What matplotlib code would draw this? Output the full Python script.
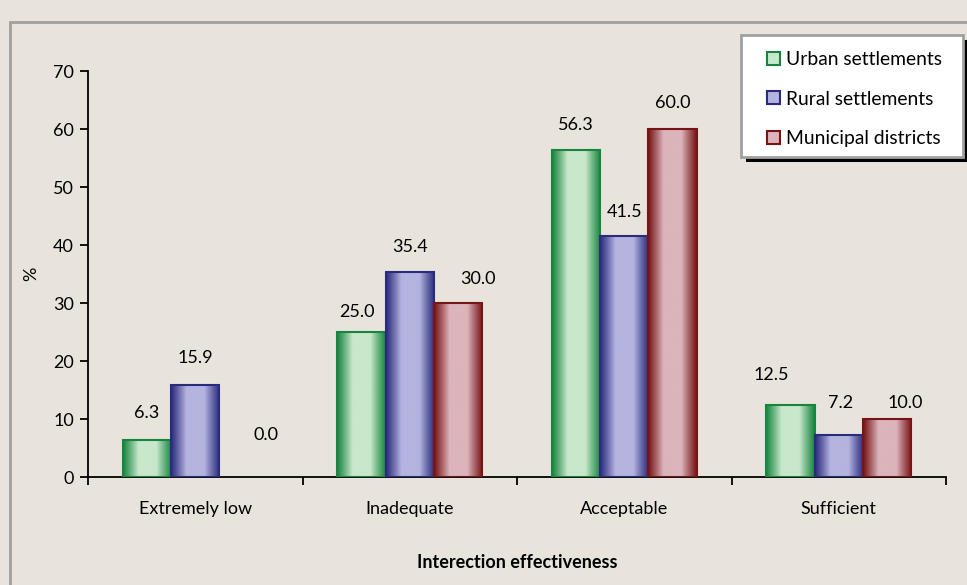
import numpy as np
import matplotlib.pyplot as plt
from matplotlib.colors import LinearSegmentedColormap
from matplotlib.patches import Rectangle

categories = ['Extremely low', 'Inadequate', 'Acceptable', 'Sufficient']
series_names = ['Urban settlements', 'Rural settlements', 'Municipal districts']
urban = [6.3, 25.0, 56.3, 12.5]
rural = [15.9, 35.4, 41.5, 7.2]
municipal = [0.0, 30.0, 60.0, 10.0]

# hand-placed label nudges (dx, dy) in pixels from the bar top centre
label_nudge = [
    [(0, 27), (-5, 20), (0, 25), (-19, 30)],
    [(0, 27), (0, 25), (0, 24), (2, 32)],
    [(22, 42), (20, 24), (0, 26), (18, 16)],
]

# (edge colour, centre colour) for the cylinder-style shading
palette = [('#17853f', '#c8e8cb'), ('#2b2b7e', '#b4b4e0'), ('#761416', '#dcb4bb')]

plt.rcParams['font.family'] = ['Lato', 'DejaVu Sans']
bg = '#e8e4dc'
fs = 13
W, H = 967, 585

fig = plt.figure(figsize=(W / 100, H / 100), dpi=100, facecolor=bg)
ax = fig.add_axes([88 / W, 1 - 477 / H, (946 - 88) / W, (477 - 71) / H])
ax.set_facecolor(bg)


def px_box(x0, y0, x1, y1, **kw):
    # rectangle given in figure pixels, measured from the top-left corner
    return Rectangle((x0 / W, 1 - y1 / H), (x1 - x0) / W, (y1 - y0) / H,
                     transform=fig.transFigure, **kw)


# outer frame of the chart area
fig.patches.append(px_box(10, 22, W + 10, H + 10, fill=False, edgecolor='#a0a0a0',
                          linewidth=2, zorder=0))

width = 0.225
x = np.arange(len(categories))
grad = np.abs(np.linspace(-1, 1, 96))[None, :]

for i, (vals, (edge, centre)) in enumerate(zip([urban, rural, municipal], palette)):
    cmap = LinearSegmentedColormap.from_list('shade', [(0, centre), (0.45, centre), (1, edge)])
    offs = x + (i - 1) * width
    bars = ax.bar(offs, vals, width, color='none', edgecolor=edge, linewidth=1.5, zorder=3)
    for j, (b, v) in enumerate(zip(bars, vals)):
        if v > 0:
            x0 = b.get_x()
            im = ax.imshow(grad ** 0.8, cmap=cmap, vmin=0, vmax=1, aspect='auto',
                           extent=(x0, x0 + width, 0, v), zorder=2, interpolation='bilinear')
            im.set_clip_path(b)
        else:
            b.set_visible(False)
        ax.annotate(f'{v:.1f}', (b.get_x() + width / 2, v), xytext=label_nudge[i][j],
                    textcoords='offset pixels', ha='center', va='center', fontsize=fs)

ax.set_xlim(-0.5, len(categories) - 0.5)
ax.set_ylim(0, 70)
ax.set_yticks(range(0, 71, 10))
ax.set_xticks(np.arange(len(categories) + 1) - 0.5)
ax.set_xticklabels([])
ax.set_xticks(x, minor=True)
ax.set_xticklabels(categories, minor=True, fontsize=fs)
ax.tick_params(axis='x', which='minor', length=0, pad=17)
ax.tick_params(axis='x', which='major', length=6, width=1.3, direction='out')
ax.tick_params(axis='y', length=6, width=1.3, labelsize=fs, pad=4)
for s in ['top', 'right']:
    ax.spines[s].set_visible(False)
for s in ['left', 'bottom']:
    ax.spines[s].set_linewidth(1.3)

ax.set_ylabel('%', fontsize=fs, labelpad=10)
ax.set_xlabel('Interection effectiveness', fontsize=fs, fontweight='bold', labelpad=27)

# legend box with a hard black drop shadow, drawn by hand
fig.patches.append(px_box(746, 40, 968, 162, facecolor='black', edgecolor='none', zorder=5))
fig.patches.append(px_box(741, 35, 963, 157, facecolor='white', edgecolor='#a0a0a0',
                          linewidth=2, zorder=6))

handles = [Rectangle((0, 0), 1, 1, facecolor=c, edgecolor=e, linewidth=1.5) for e, c in palette]
leg = fig.legend(handles, series_names, loc='upper left', bbox_to_anchor=(767 / W, 1 - 51 / H),
                 fontsize=13.9, frameon=False, handlelength=0.65, handleheight=0.65,
                 handletextpad=0.36, labelspacing=1.17, borderpad=0, borderaxespad=0)
leg.set_zorder(7)

fig.savefig('out.png', dpi=100, facecolor=bg)
